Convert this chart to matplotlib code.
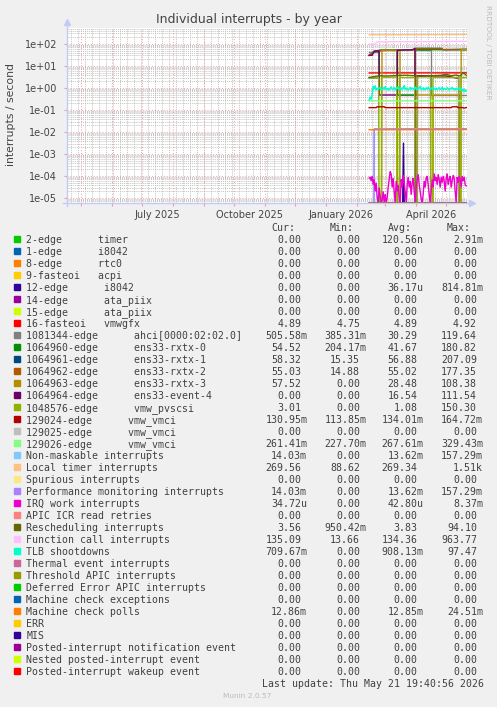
import numpy as np
import matplotlib
matplotlib.use("Agg")
import matplotlib.pyplot as plt
from matplotlib.lines import Line2D
from datetime import date

W, H = 497, 707
BG = "#F0F0F0"
TXT = "#404040"


def day(y, m, d=1):  # days since 2026-01-01
    return (date(y, m, d) - date(2026, 1, 1)).days


def fx(px):
    return px / W


def fy(py):
    return 1 - py / H


# last update Thu May 21 19:40:56 2026, year graph = 400 days
t_end = 140 + (19 + 40 / 60) / 24
t_start = t_end - 400
y_lo, y_hi = 10 ** -5.227, 10 ** 2.727

# ---------------- legend table ----------------
labels = [
    "2-edge      timer", "1-edge      i8042", "8-edge      rtc0", "9-fasteoi   acpi",
    "12-edge      i8042", "14-edge      ata_piix", "15-edge      ata_piix",
    "16-fasteoi   vmwgfx", "1081344-edge      ahci[0000:02:02.0]",
    "1064960-edge      ens33-rxtx-0", "1064961-edge      ens33-rxtx-1",
    "1064962-edge      ens33-rxtx-2", "1064963-edge      ens33-rxtx-3",
    "1064964-edge      ens33-event-4", "1048576-edge      vmw_pvscsi",
    "129024-edge      vmw_vmci", "129025-edge      vmw_vmci", "129026-edge      vmw_vmci",
    "Non-maskable interrupts", "Local timer interrupts", "Spurious interrupts",
    "Performance monitoring interrupts", "IRQ work interrupts", "APIC ICR read retries",
    "Rescheduling interrupts", "Function call interrupts", "TLB shootdowns",
    "Thermal event interrupts", "Threshold APIC interrupts",
    "Deferred Error APIC interrupts", "Machine check exceptions", "Machine check polls",
    "ERR", "MIS", "Posted-interrupt notification event", "Nested posted-interrupt event",
    "Posted-interrupt wakeup event",
]
colors = [
    "#00CC00", "#0066B3", "#FF8000", "#FFCC00", "#330099", "#990099", "#CCFF00", "#FF0000",
    "#808080", "#008F00", "#00487D", "#B35A00", "#B38F00", "#6B006B", "#8FB300", "#B30000",
    "#BEBEBE", "#80FF80", "#80C9FF", "#FFC080", "#FFE680", "#AA80FF", "#EE00CC", "#FF8080",
    "#666600", "#FFBFFF", "#00FFCC", "#CC6699", "#999900", "#00CC00", "#0066B3", "#FF8000",
    "#FFCC00", "#330099", "#990099", "#CCFF00", "#FF0000",
]
z = "0.00"
cur = [z, z, z, z, z, z, z, "4.89", "505.58m", "54.52", "58.32", "55.03", "57.52", z, "3.01",
       "130.95m", z, "261.41m", "14.03m", "269.56", z, "14.03m", "34.72u", z, "3.56", "135.09",
       "709.67m", z, z, z, z, "12.86m", z, z, z, z, z]
mins = [z, z, z, z, z, z, z, "4.75", "385.31m", "204.17m", "15.35", "14.88", z, z, z,
        "113.85m", z, "227.70m", z, "88.62", z, z, z, z, "950.42m", "13.66", z, z, z, z, z,
        z, z, z, z, z, z]
avgs = ["120.56n", z, z, z, "36.17u", z, z, "4.89", "30.29", "41.67", "56.88", "55.02", "28.48",
        "16.54", "1.08", "134.01m", z, "267.61m", "13.62m", "269.34", z, "13.62m", "42.80u", z,
        "3.83", "134.36", "908.13m", z, z, z, z, "12.85m", z, z, z, z, z]
maxs = ["2.91m", z, z, z, "814.81m", z, z, "4.92", "119.64", "180.82", "207.09", "177.35",
        "108.38", "111.54", "150.30", "164.72m", z, "329.43m", "157.29m", "1.51k", z, "157.29m",
        "8.37m", z, "94.10", "963.77", "97.47", z, z, z, z, "24.51m", z, z, z, z, z]

# ---------------- series (x = days since 2026-01-01) ----------------
t_flat = [43, 140.8]
t_timer = [43, 52, 53, 54, 140.8]
v_timer = [0, 0, 1.3e-5, 0, 0]
t_i8042 = [43, 76.5, 77.3, 78, 140.8]
v_i8042 = [0, 0, 3.3e-3, 0, 0]
v_vmwgfx = [4.85, 4.89]
t_ahci = [43, 53, 53, 71, 71, 89, 89, 104.5, 104.5, 132.5, 132.5, 140.8]
v_ahci = [45, 45, 55, 55, 0.48, 0.48, 55, 55, 0.48, 0.48, 0.50, 0.50]
t_rx0 = [43, 53, 53, 71, 71, 89, 89, 140.8]
v_rx0 = [2.9, 2.9, 52, 52, 0.48, 0.48, 55, 54.5]
t_rx1 = [43, 46, 48, 53, 60, 88, 89, 115, 117, 140.8]
v_rx1 = [31, 38, 48, 50, 52, 52, 63, 63, 56, 58]
t_rx2 = [43, 46, 48, 53, 60, 88, 89, 115, 117, 140.8]
v_rx2 = [31, 37, 47, 50, 51, 52, 62, 62, 55, 55]
t_rx3 = [43, 53, 53.3, 55.5, 55.8, 71, 71.3, 73.5, 73.8, 89, 89.3, 104.5, 104.5,
         106.8, 107, 132.5, 132.5, 134.8, 135, 140.8]
v_rx3 = [0, 0, 0, 0, 52, 52, 0, 0, 52, 52, 0.48, 0.48, 0, 0, 0.48, 0.48, 0, 0, 57, 57.5]
t_ev4 = [43, 46, 48, 52.8, 53, 71, 71.2, 86, 88.8, 89, 91, 91.2, 120, 131, 132.5, 132.7, 140.8]
v_ev4 = [30, 31, 45, 50, 0.48, 0.48, 52, 55, 63, 0, 0, 3.6, 3.5, 2.8, 3.2, 0, 0]
t_pvscsi = [43, 52.5, 52.7, 55.2, 55.4, 70.5, 70.7, 73.2, 73.4, 88.5, 88.7, 91.2, 91.4,
            104.3, 104.5, 106.6, 106.8, 132.3, 132.5, 134.6, 134.8, 140.8]
v_pvscsi = [3.0, 3.0, 0, 0, 3.1, 3.1, 0, 0, 3.0, 3.0, 0, 0, 3.2, 3.2, 0, 0, 3.0, 3.0, 0, 0,
            3.0, 3.0]
t_vmci0 = [43, 50, 51, 58, 59, 125, 126, 131, 132, 137, 138, 140.8]
v_vmci0 = [0.128, 0.128, 0.14, 0.14, 0.128, 0.128, 0.14, 0.14, 0.128, 0.128, 0.122, 0.131]
v_vmci2 = [0.26, 0.261]
t_nmi = [43, 47.8, 48, 140.8]
v_nmi = [0, 0, 0.0138, 0.0140]
v_ltimer = [262, 268]
v_resched = [3.0, 3.6, 3.5, 3.7, 3.8, 3.6, 3.4, 3.6, 3.8, 4.2, 3.6, 3.9, 3.5, 5.0, 3.56]
t_resched = [43, 53, 60, 70, 80, 89, 95, 105, 115, 120, 125, 130, 134, 137, 140.8]
t_fcall = [43, 49, 51, 140.8]
v_fcall = [98, 100, 125, 132]
v_mcpoll = [0.0126, 0.0128]

t_daily = np.arange(43, 141)
v_tlb = [0.28, 0.40, 0.30, 0.55, 1.25, 0.90, 1.30, 0.80, 1.00, 0.85, 0.95, 1.10, 0.80, 0.95,
         1.05, 0.85, 1.20, 0.90, 0.85, 1.00, 0.80, 0.95, 1.15, 0.85, 0.90, 1.10, 0.80, 1.00,
         0.90, 1.20, 0.85, 0.95, 0.80, 1.05, 0.90, 1.35, 0.85, 0.95, 1.00, 0.80, 0.90, 1.10,
         0.85, 1.00, 0.95, 0.80, 1.15, 0.90, 0.85, 1.00, 0.95, 1.25, 0.85, 0.90, 1.05, 0.80,
         0.95, 1.00, 0.85, 1.10, 0.90, 0.80, 1.00, 0.95, 1.15, 0.85, 0.90, 1.00, 0.80, 0.95,
         1.05, 0.85, 0.90, 1.10, 0.80, 1.00, 0.90, 0.85, 1.05, 0.95, 0.80, 1.00, 0.90, 1.10,
         0.85, 0.95, 0.80, 1.00, 0.90, 0.85, 1.05, 0.80, 0.95, 0.75, 0.90, 0.65, 0.85, 0.71]
v_irq = [8e-5, 9e-5, 6e-5, 1e-4, 4e-5, 7e-5, 2e-5, 5e-5, 1e-5, 0, 3e-5, 1.2e-5, 0, 8e-6, 2e-5,
         0, 1.5e-5, 0, 1e-5, 3e-5, 7e-5, 1.6e-4, 1.2e-4, 3e-5, 8e-5, 2e-5, 0, 6e-5, 2e-5, 4e-5,
         1e-5, 0, 7e-5, 3e-5, 1.1e-4, 5e-5, 2e-5, 0, 4e-5, 9e-5, 3e-5, 6e-5, 1.4e-5, 5e-5,
         8e-5, 2e-5, 0, 3e-5, 7e-5, 1.2e-4, 4e-5, 2e-5, 9e-6, 0, 1.5e-5, 6e-5, 3e-5, 8e-5,
         1e-4, 4e-5, 1.5e-5, 0, 2e-5, 7e-5, 3e-5, 1.3e-4, 6e-5, 9e-5, 4e-5, 1.2e-4, 7e-5,
         3e-5, 9e-5, 5e-5, 1e-4, 6e-5, 2e-5, 8e-5, 1.3e-4, 4e-5, 7e-5, 1e-4, 3e-5, 6e-5,
         1.1e-4, 8e-5, 2e-5, 0, 9e-5, 5e-5, 1e-4, 7e-5, 3e-5, 1e-4, 6e-5, 9e-5, 4e-5, 3.5e-5]

series = [
    (t_timer, v_timer), (t_flat, [0, 0]), (t_flat, [0, 0]), (t_flat, [0, 0]),
    (t_i8042, v_i8042), (t_flat, [0, 0]), (t_flat, [0, 0]), (t_flat, v_vmwgfx),
    (t_ahci, v_ahci), (t_rx0, v_rx0), (t_rx1, v_rx1), (t_rx2, v_rx2), (t_rx3, v_rx3),
    (t_ev4, v_ev4), (t_pvscsi, v_pvscsi), (t_vmci0, v_vmci0), (t_flat, [0, 0]),
    (t_flat, v_vmci2), (t_nmi, v_nmi), (t_flat, v_ltimer), (t_flat, [0, 0]),
    (t_nmi, v_nmi), (t_daily, v_irq), (t_flat, [0, 0]), (t_resched, v_resched),
    (t_fcall, v_fcall), (t_daily, v_tlb), (t_flat, [0, 0]), (t_flat, [0, 0]),
    (t_flat, [0, 0]), (t_flat, [0, 0]), (t_flat, v_mcpoll), (t_flat, [0, 0]),
    (t_flat, [0, 0]), (t_flat, [0, 0]), (t_flat, [0, 0]), (t_flat, [0, 0]),
]

# ---------------- figure ----------------
fig = plt.figure(figsize=(W / 100, H / 100), dpi=100, facecolor=BG)
ax = fig.add_axes([fx(67), fy(203), 400 / W, 175 / H], facecolor="white")
ax.set_yscale("log")
ax.set_xlim(t_start, t_end)
ax.set_ylim(y_lo, y_hi)
for s in ax.spines.values():
    s.set_visible(False)

# grid, rrdtool style
month_days = [day(2025 + (m - 1) // 12, (m - 1) % 12 + 1) for m in range(5, 18)]
week_days = np.arange(day(2025, 4, 21), t_end, 7)
for d in week_days:
    ax.axvline(d, color="#C4C4C4", lw=0.7, ls=(0, (1, 1)), zorder=1)
for d in month_days:
    ax.axvline(d, color="#EBA0A0", lw=0.7, ls=(0, (1, 2)), zorder=1.5)
for e in range(-6, 3):
    for k in range(2, 10):
        ax.axhline(k * 10.0 ** e, color="#C4C4C4", lw=0.7, ls=(0, (1, 1)), zorder=1)
    ax.axhline(10.0 ** e, color="#EBA0A0", lw=0.7, ls=(0, (1, 2)), zorder=1.5)

for i, (t, v) in enumerate(series):
    vv = np.maximum(np.asarray(v, dtype=float), y_lo)
    ax.plot(t, vv, color=colors[i], lw=1.0, zorder=3, solid_joinstyle="miter")

ax.set_xticks(month_days)
ax.set_xticklabels([])
ax.tick_params(axis="x", which="major", length=2, color="#EBA0A0", width=0.8)
ax.set_yticks([10.0 ** e for e in range(-5, 3)])
ax.set_yticklabels(["1e-05", "1e-04", "1e-03", "1e-02", "1e-01", "1e+00", "1e+01", "1e+02"])
ax.tick_params(axis="y", which="major", length=2, color="#EBA0A0", width=0.8,
               labelsize=7, labelcolor="#444444", pad=5)
ax.tick_params(axis="y", which="minor", length=0)

for lab, d in zip(["July 2025", "October 2025", "January 2026", "April 2026"],
                  [day(2025, 7, 16), day(2025, 10, 16), day(2026, 1, 16), day(2026, 4, 16)]):
    ax.text(d, -0.04, lab, transform=ax.get_xaxis_transform(), ha="center", va="top",
            fontsize=7, color="#444444")

# axis lines with arrows
axis_col = "#C4CAF6"
fig.add_artist(Line2D([fx(67), fx(67)], [fy(206), fy(24)], color=axis_col, lw=1))
fig.add_artist(Line2D([fx(63), fx(470)], [fy(203), fy(203)], color=axis_col, lw=1, zorder=2))
fig.add_artist(Line2D([fx(67)], [fy(22)], marker="^", ms=4, color=axis_col, lw=0))
fig.add_artist(Line2D([fx(472)], [fy(203)], marker=">", ms=4, color=axis_col, lw=0))

# titles
fig.text(fx(248.5), fy(19), "Individual interrupts - by year", ha="center", va="center",
         fontsize=9, color="#444444")
fig.text(fx(11), fy(115), "interrupts / second", rotation=90, ha="center", va="center",
         fontsize=7.8, color="#444444")
fig.text(fx(488), fy(5), "RRDTOOL / TOBI OETIKER", rotation=270, ha="center", va="top",
         fontsize=5.3, color="#BBBBBB")

# legend
mono = "DejaVu Sans Mono"
fs = 7.13
cw = 0.60205 * fs * 100 / 72
for lab, px in zip(["Cur:", "Min:", "Avg:", "Max:"], [271.7, 330, 388.3, 446.7]):
    fig.text(fx(px), fy(231.3), lab, family=mono, fontsize=fs, color=TXT, va="baseline")
col_end = [307, 366, 423.5, 482.7]
for i, lab in enumerate(labels):
    base = 243.3 + 12 * i
    fig.add_artist(plt.Rectangle((fx(14), fy(base - 1)), 6 / W, 6 / H, color=colors[i],
                                 transform=fig.transFigure))
    fig.text(fx(26.3), fy(base), lab, family=mono, fontsize=fs, color=TXT, va="baseline")
    for col, s in zip(col_end, [cur[i], mins[i], avgs[i], maxs[i]]):
        n = len(s) if s[-1].isalpha() else len(s) + 1
        fig.text(fx(col - n * cw), fy(base), s, family=mono, fontsize=fs, color=TXT,
                 va="baseline")

fig.text(fx(482.7 - 37 * cw), fy(687.3), "Last update: Thu May 21 19:40:56 2026", family=mono,
         fontsize=fs, color=TXT, va="baseline")
fig.text(fx(247.5), fy(698.5), "Munin 2.0.57", ha="center", va="baseline", fontsize=5.3,
         color="#BBBBBB")

fig.savefig("out.png", dpi=100, facecolor=BG)
